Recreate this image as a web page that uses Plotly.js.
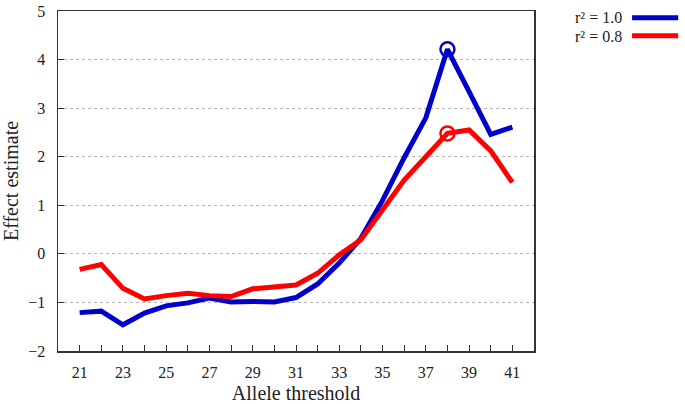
<!DOCTYPE html>
<html><head><meta charset="utf-8">
<script src="https://cdn.plot.ly/plotly-3.0.1.min.js"></script>
<style>html,body{margin:0;padding:0;background:#fff}#c{width:685px;height:404px}</style>
</head><body><div id="c"></div>
<script>
const thresholds = [21,22,23,24,25,26,27,28,29,30,31,32,33,34,35,36,37,38,39,40,41];
const r2_10 = [-1.21,-1.18,-1.46,-1.22,-1.07,-1.01,-0.91,-0.99,-0.98,-0.99,-0.90,-0.62,-0.19,0.32,1.10,1.98,2.80,4.21,3.34,2.46,2.61];
const r2_08 = [-0.32,-0.22,-0.71,-0.93,-0.86,-0.81,-0.86,-0.88,-0.72,-0.69,-0.64,-0.40,-0.02,0.29,0.92,1.52,2.00,2.48,2.55,2.12,1.47];
const peakX = [38];
const peak10 = [4.21];
const peak08 = [2.48];
const legendLabels = ["r² = 1.0","r² = 0.8"];
const colors = ["#0000c8","#ff0000"];

const font = "'Liberation Serif', 'Times New Roman', serif";
const traces = [
  {x: thresholds, y: r2_10, mode:'lines', line:{color:colors[0], width:5}, showlegend:false},
  {x: thresholds, y: r2_08, mode:'lines', line:{color:colors[1], width:5}, showlegend:false},
  {x: peakX, y: peak10, mode:'markers', marker:{symbol:'circle-open', size:14, color:colors[0], line:{width:2.5, color:colors[0]}}, showlegend:false},
  {x: peakX, y: peak08, mode:'markers', marker:{symbol:'circle-open', size:14, color:colors[1], line:{width:2.5, color:colors[1]}}, showlegend:false}
];
const layout = {
  width:685, height:404,
  margin:{l:58, r:151, t:11, b:53},
  paper_bgcolor:'#fff', plot_bgcolor:'#fff',
  font:{family:font, size:16, color:'#222'},
  xaxis:{range:[20,42], tick0:21, dtick:2, ticks:'inside', ticklen:6, tickcolor:'#333', tickwidth:1,
    minor:{dtick:1, tick0:21, ticks:'inside', ticklen:6, tickcolor:'#333', tickwidth:1, showgrid:false},
    showgrid:false, zeroline:false, showline:true, linecolor:'#333', linewidth:1.5, mirror:true,
    ticklabelstandoff:6, tickfont:{size:16, family:font},
    title:{text:'Allele threshold', font:{size:20, family:font}, standoff:6}},
  yaxis:{range:[-2,5], dtick:1, ticks:'inside', ticklen:6, tickcolor:'#333', tickwidth:1,
    showgrid:true, gridcolor:'#b4b4b4', griddash:'dot', gridwidth:1,
    zeroline:false, showline:true, linecolor:'#333', linewidth:1.5, mirror:true,
    ticklabelstandoff:8, tickfont:{size:16, family:font},
    title:{text:'Effect estimate', font:{size:20, family:font}, standoff:10}},
  annotations:[
    {xref:'paper', yref:'paper', x:1.187, y:0.982, xanchor:'right', yanchor:'middle', text:legendLabels[0], showarrow:false, borderpad:0, font:{size:16, family:font, color:'#222'}},
    {xref:'paper', yref:'paper', x:1.187, y:0.926, xanchor:'right', yanchor:'middle', text:legendLabels[1], showarrow:false, borderpad:0, font:{size:16, family:font, color:'#222'}}
  ],
  shapes:[
    {type:'line', xref:'paper', yref:'paper', x0:1.206, x1:1.303, y0:0.980, y1:0.980, line:{color:colors[0], width:5}},
    {type:'line', xref:'paper', yref:'paper', x0:1.206, x1:1.303, y0:0.927, y1:0.927, line:{color:colors[1], width:5}}
  ]
};
Plotly.newPlot('c', traces, layout, {displayModeBar:false, staticPlot:true});
</script></body></html>
